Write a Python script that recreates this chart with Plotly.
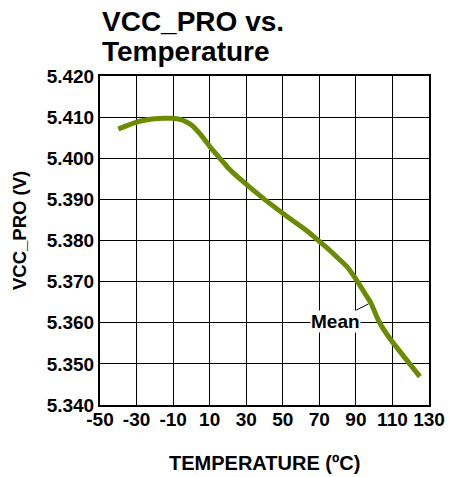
import plotly.graph_objects as go

# Data
temperature_c = [-40, -35, -30, -25, -20, -15, -10, -5, 0, 5, 10, 15, 20, 25, 30,
                 35, 40, 45, 50, 55, 60, 65, 70, 75, 80, 85, 90, 95, 98,
                 100, 102, 105, 110, 115, 120, 125]
vcc_pro_v = [5.4071, 5.4080, 5.4088, 5.4093, 5.4096, 5.4097, 5.4097, 5.4093, 5.4081,
             5.4058, 5.4029, 5.4003, 5.3977, 5.3956, 5.3937, 5.3918, 5.3900, 5.3883,
             5.3866, 5.3850, 5.3834, 5.3817, 5.3798, 5.3779, 5.3758, 5.3737, 5.3706,
             5.3671, 5.3650, 5.3630, 5.3609, 5.3585, 5.3553, 5.3525, 5.3497, 5.3469]

x_ticks = [-50, -30, -10, 10, 30, 50, 70, 90, 110, 130]
y_ticks = [5.340, 5.350, 5.360, 5.370, 5.380, 5.390, 5.400, 5.410, 5.420]

title_lines = ["VCC_PRO vs.", "Temperature"]
x_title = "TEMPERATURE (ºC)"
y_title = "VCC_PRO (V)"
series_label = "Mean"

FONT = "Liberation Sans, Arial, sans-serif"

fig = go.Figure()
fig.add_trace(go.Scatter(
    x=temperature_c, y=vcc_pro_v, mode="lines",
    line=dict(color="#6b8c00", width=5, shape="spline", smoothing=0.4),
    showlegend=False, hoverinfo="skip",
))

fig.update_layout(
    width=457, height=477,
    margin=dict(l=100, r=24, t=76, b=72),
    paper_bgcolor="white", plot_bgcolor="white",
    font=dict(family=FONT, color="black"),
    showlegend=False,
)

fig.update_xaxes(
    range=[-50, 130], tickvals=x_ticks, ticktext=[str(t) for t in x_ticks],
    showgrid=True, gridcolor="black", gridwidth=1,
    showline=True, linecolor="black", linewidth=2, mirror=True,
    ticks="", zeroline=False, ticklabelstandoff=-4,
    tickfont=dict(family=FONT, size=19, color="black", weight="bold"),
)
fig.update_yaxes(
    range=[5.340, 5.420], tickvals=y_ticks, ticktext=[f"{t:.3f}" for t in y_ticks],
    showgrid=True, gridcolor="black", gridwidth=1,
    showline=True, linecolor="black", linewidth=2, mirror=True,
    ticks="", zeroline=False,
    tickfont=dict(family=FONT, size=19, color="black", weight="bold"),
)

# Title lines
fig.add_annotation(text="<b>" + title_lines[0] + "</b>", xref="paper", yref="paper",
                   x=0, y=1.165, xanchor="left", yanchor="middle", showarrow=False,
                   font=dict(family=FONT, size=28, color="black"))
fig.add_annotation(text="<b>" + title_lines[1] + "</b>", xref="paper", yref="paper",
                   x=0, y=1.075, xanchor="left", yanchor="middle", showarrow=False,
                   font=dict(family=FONT, size=28, color="black"))
# Axis titles
fig.add_annotation(text="<b>" + x_title + "</b>", xref="paper", yref="paper",
                   x=0.5, y=-0.176, xanchor="center", yanchor="middle", showarrow=False,
                   font=dict(family=FONT, size=20, color="black"))
fig.add_annotation(text="<b>" + y_title + "</b>", xref="paper", yref="paper",
                   x=-0.243, y=0.529, xanchor="center", yanchor="middle", showarrow=False,
                   textangle=-90, font=dict(family=FONT, size=18.5, color="black"))
# Series label with leader line
fig.add_annotation(text="<b>" + series_label + "</b>", x=96.9, y=5.3646,
                   ax=78.6, ay=5.3604, axref="x", ayref="y",
                   showarrow=True, arrowhead=0, arrowwidth=1, arrowcolor="black",
                   standoff=0, bgcolor="white", borderpad=0,
                   font=dict(family=FONT, size=19, color="black"))

fig.write_html("out.html", post_script="document.body.style.margin='0';",
               config={"displayModeBar": False})
